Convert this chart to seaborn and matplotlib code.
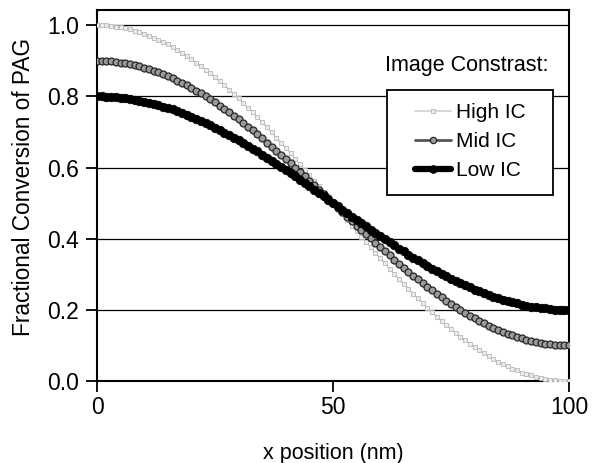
import matplotlib
matplotlib.use("Agg")
import matplotlib.pyplot as plt
from matplotlib.patches import Rectangle
import seaborn as sns
import pandas as pd

x_nm = list(range(0, 101))

high_ic = [1.000, 1.000, 0.999, 0.998, 0.996, 0.994, 0.991, 0.988, 0.984, 0.980,
           0.976, 0.970, 0.965, 0.959, 0.952, 0.946, 0.938, 0.930, 0.922, 0.914,
           0.905, 0.895, 0.885, 0.875, 0.865, 0.854, 0.842, 0.831, 0.819, 0.806,
           0.794, 0.781, 0.768, 0.755, 0.741, 0.727, 0.713, 0.699, 0.684, 0.669,
           0.655, 0.640, 0.624, 0.609, 0.594, 0.578, 0.563, 0.547, 0.531, 0.516,
           0.500, 0.484, 0.469, 0.453, 0.437, 0.422, 0.406, 0.391, 0.376, 0.360,
           0.345, 0.331, 0.316, 0.301, 0.287, 0.273, 0.259, 0.245, 0.232, 0.219,
           0.206, 0.194, 0.181, 0.169, 0.158, 0.146, 0.135, 0.125, 0.115, 0.105,
           0.095, 0.086, 0.078, 0.070, 0.062, 0.054, 0.048, 0.041, 0.035, 0.030,
           0.024, 0.020, 0.016, 0.012, 0.009, 0.006, 0.004, 0.002, 0.001, 0.000,
           0.000]

mid_ic = [0.900, 0.900, 0.899, 0.898, 0.897, 0.895, 0.893, 0.890, 0.887, 0.884,
          0.880, 0.876, 0.872, 0.867, 0.862, 0.856, 0.851, 0.844, 0.838, 0.831,
          0.824, 0.816, 0.808, 0.800, 0.792, 0.783, 0.774, 0.765, 0.755, 0.745,
          0.735, 0.725, 0.714, 0.704, 0.693, 0.682, 0.670, 0.659, 0.647, 0.635,
          0.624, 0.612, 0.599, 0.587, 0.575, 0.563, 0.550, 0.538, 0.525, 0.513,
          0.500, 0.487, 0.475, 0.462, 0.450, 0.437, 0.425, 0.413, 0.401, 0.388,
          0.376, 0.365, 0.353, 0.341, 0.330, 0.318, 0.307, 0.296, 0.286, 0.275,
          0.265, 0.255, 0.245, 0.235, 0.226, 0.217, 0.208, 0.200, 0.192, 0.184,
          0.176, 0.169, 0.162, 0.156, 0.149, 0.144, 0.138, 0.133, 0.128, 0.124,
          0.120, 0.116, 0.113, 0.110, 0.107, 0.105, 0.103, 0.102, 0.101, 0.100,
          0.100]

low_ic = [0.800, 0.800, 0.799, 0.799, 0.798, 0.796, 0.795, 0.793, 0.791, 0.788,
          0.785, 0.782, 0.779, 0.775, 0.771, 0.767, 0.763, 0.758, 0.753, 0.748,
          0.743, 0.737, 0.731, 0.725, 0.719, 0.712, 0.705, 0.698, 0.691, 0.684,
          0.676, 0.669, 0.661, 0.653, 0.645, 0.636, 0.628, 0.619, 0.610, 0.602,
          0.593, 0.584, 0.575, 0.565, 0.556, 0.547, 0.538, 0.528, 0.519, 0.509,
          0.500, 0.491, 0.481, 0.472, 0.462, 0.453, 0.444, 0.435, 0.425, 0.416,
          0.407, 0.398, 0.390, 0.381, 0.372, 0.364, 0.355, 0.347, 0.339, 0.331,
          0.324, 0.316, 0.309, 0.302, 0.295, 0.288, 0.281, 0.275, 0.269, 0.263,
          0.257, 0.252, 0.247, 0.242, 0.237, 0.233, 0.229, 0.225, 0.221, 0.218,
          0.215, 0.212, 0.209, 0.207, 0.205, 0.204, 0.202, 0.201, 0.201, 0.200,
          0.200]

series_names = ["High IC", "Mid IC", "Low IC"]
x_ticks = [0, 50, 100]
y_ticks = [0.0, 0.2, 0.4, 0.6, 0.8, 1.0]
y_tick_labels = ["0.0", "0.2", "0.4", "0.6", "0.8", "1.0"]

sns.set_style("white")
plt.rcParams["font.family"] = ["Liberation Sans", "DejaVu Sans"]
plt.rcParams["text.color"] = "black"
plt.rcParams["xtick.color"] = "black"
plt.rcParams["ytick.color"] = "black"
plt.rcParams["axes.labelcolor"] = "black"

fig = plt.figure(figsize=(5.97, 4.63), dpi=100)
ax = fig.add_axes([0.1625, 0.177, 0.7905, 0.801])

df = pd.DataFrame({"x": x_nm, "High IC": high_ic, "Mid IC": mid_ic, "Low IC": low_ic})

styles = {
    "High IC": dict(color="#d0d0d0", linewidth=1.2, marker="s", markersize=3.4,
                    markerfacecolor="#ececec", markeredgecolor="#b8b8b8", markeredgewidth=0.6),
    "Mid IC": dict(color="#555555", linewidth=2.0, marker="o", markersize=5.0,
                   markerfacecolor="#9a9a9a", markeredgecolor="#262626", markeredgewidth=0.9),
    "Low IC": dict(color="black", linewidth=4.5, marker="o", markersize=6.2,
                   markerfacecolor="black", markeredgecolor="black", markeredgewidth=0.5),
}

for name in series_names:
    sns.lineplot(data=df, x="x", y=name, ax=ax, label=name, zorder=3, **styles[name])

ax.set_xlim(0, 100)
ax.set_ylim(0, 1.042)
ax.set_xticks(x_ticks)
ax.set_yticks(y_ticks)
ax.set_yticklabels(y_tick_labels)
ax.yaxis.grid(True, color="black", linewidth=0.9)
ax.xaxis.grid(False)
ax.set_axisbelow(True)
for s in ax.spines.values():
    s.set_color("black")
    s.set_linewidth(1.5)
    s.set_visible(True)

ax.tick_params(axis="y", direction="out", length=8, width=1.3, pad=5, labelsize=16.5, left=True)
ax.tick_params(axis="x", direction="out", length=8, width=1.3, pad=3, labelsize=16.5, bottom=True)

ax.set_xlabel("x position (nm)", fontsize=15.5, labelpad=17)
ax.set_ylabel("Fractional Conversion of PAG", fontsize=16.3)
ax.yaxis.set_label_coords(-0.131, 0.523)

ax.text(0.784, 0.852, "Image Constrast:", transform=ax.transAxes, ha="center", va="center",
        fontsize=15.5, zorder=6)

# legend frame drawn as a separate box
ax.add_patch(Rectangle((0.614, 0.501), 0.352, 0.283, transform=ax.transAxes,
                       facecolor="white", edgecolor="black", linewidth=1.3, zorder=5))

leg = ax.legend(loc="upper left", bbox_to_anchor=(0.674, 0.749), frameon=False, fontsize=15,
                handlelength=1.7, handletextpad=0.25, labelspacing=0.48, borderpad=0,
                borderaxespad=0)
leg.set_zorder(6)
for line in leg.get_lines():
    line.set_markersize(line.get_markersize() * 0.9)

fig.savefig("out.png", dpi=100)
